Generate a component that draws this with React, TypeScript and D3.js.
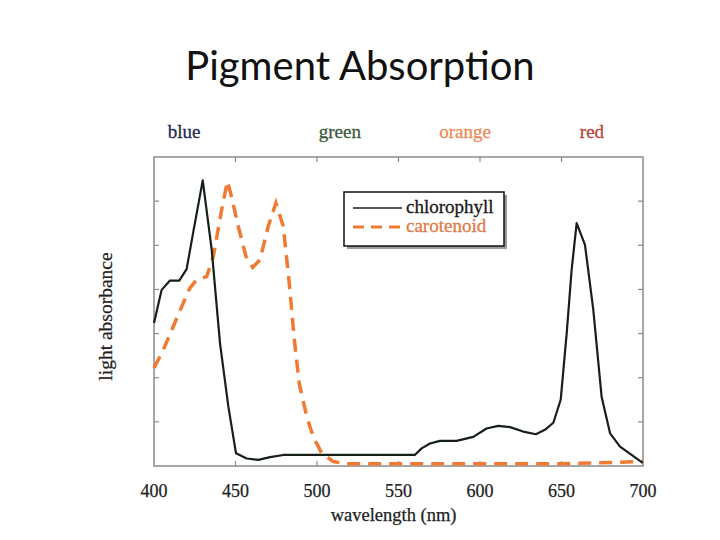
import * as d3 from "d3";
import { useEffect, useRef } from "react";

const chlWavelength = [400, 404.7, 409.8, 415.5, 420, 424, 429.9, 435.4, 440.5, 445.6, 450.3, 456.9, 464, 471.2, 479.3, 560, 564.2, 569.3, 575.4, 585.6, 595.9, 604, 611.2, 618.4, 626.5, 634.3, 639.8, 645, 649.5, 653.2, 656.2, 659.3, 664.4, 669.5, 674.6, 679.8, 685.9, 693, 699.8];
const chlAbsorb = [3.24, 3.99, 4.2, 4.2, 4.46, 5.28, 6.47, 4.9, 2.78, 1.35, 0.29, 0.17, 0.14, 0.2, 0.25, 0.25, 0.4, 0.51, 0.57, 0.57, 0.66, 0.85, 0.91, 0.88, 0.78, 0.72, 0.82, 0.98, 1.5, 3.01, 4.44, 5.5, 5.01, 3.54, 1.57, 0.74, 0.44, 0.25, 0.07];

const carWavelength = [400, 405.7, 411.8, 417, 422, 426.2, 432.3, 436.4, 441.5, 445, 447, 451.7, 456.4, 460.5, 465, 470.1, 474.8, 479.3, 483, 485.9, 489.1, 493.7, 497.7, 502.9, 510, 518, 650, 700];
const carAbsorb = [2.22, 2.63, 3.16, 3.61, 4.03, 4.22, 4.29, 4.75, 5.8, 6.45, 6.18, 5.43, 4.75, 4.5, 4.67, 5.43, 5.96, 5.43, 4.14, 2.93, 1.87, 1.12, 0.66, 0.29, 0.1, 0.05, 0.05, 0.1];

const xTicks = [400, 450, 500, 550, 600, 650, 700];
const yTicks = [1, 2, 3, 4, 5, 6];

const bandLabels = ["blue", "green", "orange", "red"];
const bandCenters = [418.4, 514, 590.8, 668.7];
const bandColors = ["#1e2a55", "#3d5a3d", "#ec8a55", "#b5453a"];

const seriesNames = ["chlorophyll", "carotenoid"];

export default function App() {
  const ref = useRef<SVGSVGElement | null>(null);

  useEffect(() => {
    const svg = d3.select(ref.current);
    svg.selectAll("*").remove();

    const left = 154, right = 643, top = 157, bottom = 466;
    const serif = "'Liberation Serif', 'DejaVu Serif', serif";

    const x = d3.scaleLinear().domain([400, 700]).range([left, right]);
    const y = d3.scaleLinear().domain([0, 7]).range([bottom, top]);

    svg.append("rect").attr("width", 720).attr("height", 540).attr("fill", "#fff");

    svg.append("text")
      .attr("x", 360).attr("y", 80)
      .attr("text-anchor", "middle")
      .style("font-family", "Lato, 'Open Sans', sans-serif")
      .style("font-size", "40px")
      .attr("fill", "#111")
      .text("Pigment Absorption");

    // colour band labels above the plot
    svg.selectAll(".band")
      .data(bandLabels)
      .enter().append("text")
      .attr("x", (d, i) => x(bandCenters[i]))
      .attr("y", 138)
      .attr("text-anchor", "middle")
      .style("font-family", serif)
      .style("font-size", "19px")
      .attr("fill", (d, i) => bandColors[i])
      .attr("stroke", (d, i) => bandColors[i])
      .attr("stroke-width", 0.3)
      .text((d) => d);

    // frame
    svg.append("rect")
      .attr("x", left).attr("y", top)
      .attr("width", right - left).attr("height", bottom - top)
      .attr("fill", "none").attr("stroke", "#8a8a8a").attr("stroke-width", 1.5);

    const tickLen = 5;
    const g = svg.append("g").attr("stroke", "#8a8a8a").attr("stroke-width", 1.2);
    xTicks.slice(1, -1).forEach((t) => {
      g.append("line").attr("x1", x(t)).attr("x2", x(t)).attr("y1", top).attr("y2", top + tickLen);
      g.append("line").attr("x1", x(t)).attr("x2", x(t)).attr("y1", bottom).attr("y2", bottom - tickLen);
    });
    yTicks.forEach((t) => {
      g.append("line").attr("x1", left).attr("x2", left + tickLen).attr("y1", y(t)).attr("y2", y(t));
      g.append("line").attr("x1", right).attr("x2", right - tickLen).attr("y1", y(t)).attr("y2", y(t));
    });

    const textStyle = (sel: any, size: number) =>
      sel.style("font-family", serif).style("font-size", `${size}px`)
        .attr("fill", "#222").attr("stroke", "#222").attr("stroke-width", 0.25);

    svg.selectAll(".xt")
      .data(xTicks)
      .enter().append("text")
      .attr("x", (d) => x(d)).attr("y", 497)
      .attr("text-anchor", "middle")
      .call(textStyle, 18)
      .text((d) => d);

    svg.append("text")
      .attr("x", x(547)).attr("y", 521)
      .attr("text-anchor", "middle")
      .call(textStyle, 18.5)
      .text("wavelength (nm)");

    svg.append("text")
      .attr("transform", `translate(112,${(top + bottom) / 2 + 5}) rotate(-90)`)
      .attr("text-anchor", "middle")
      .call(textStyle, 19.5)
      .text("light absorbance");

    const carLine = d3.line<number>()
      .x((d) => x(d))
      .y((d, i) => y(carAbsorb[i]));
    svg.append("path")
      .datum(carWavelength)
      .attr("fill", "none")
      .attr("stroke", "#f07a32")
      .attr("stroke-width", 3.5)
      .attr("stroke-dasharray", "13,8")
      .attr("d", carLine);

    const chlLine = d3.line<number>()
      .x((d) => x(d))
      .y((d, i) => y(chlAbsorb[i]));
    svg.append("path")
      .datum(chlWavelength)
      .attr("fill", "none")
      .attr("stroke", "#162016")
      .attr("stroke-width", 2.2)
      .attr("stroke-linejoin", "round")
      .attr("d", chlLine);

    // legend
    const lg = svg.append("g").attr("transform", "translate(344,192)");
    lg.append("rect").attr("x", 3).attr("y", 3).attr("width", 160).attr("height", 54).attr("fill", "#9a9a9a");
    lg.append("rect").attr("x", 0).attr("y", 0).attr("width", 160).attr("height", 54)
      .attr("fill", "#fff").attr("stroke", "#111").attr("stroke-width", 1.5);
    const legendStyles = [
      { color: "#162016", text: "#1a1a1a", dash: null, w: 1.6 },
      { color: "#f07a32", text: "#e07a48", dash: "11,7", w: 3 },
    ];
    seriesNames.forEach((name, i) => {
      const yy = 16 + i * 19;
      const s = legendStyles[i];
      lg.append("line")
        .attr("x1", 9).attr("x2", 58).attr("y1", yy).attr("y2", yy)
        .attr("stroke", s.color).attr("stroke-width", s.w)
        .attr("stroke-dasharray", s.dash);
      lg.append("text")
        .attr("x", 62).attr("y", yy + 5)
        .style("font-family", serif).style("font-size", "19px")
        .attr("fill", s.text).attr("stroke", s.text).attr("stroke-width", 0.3)
        .text(name);
    });
  }, []);

  return <svg ref={ref} width={720} height={540} style={{ position: "absolute", left: 0, top: 0 }}></svg>;
}
